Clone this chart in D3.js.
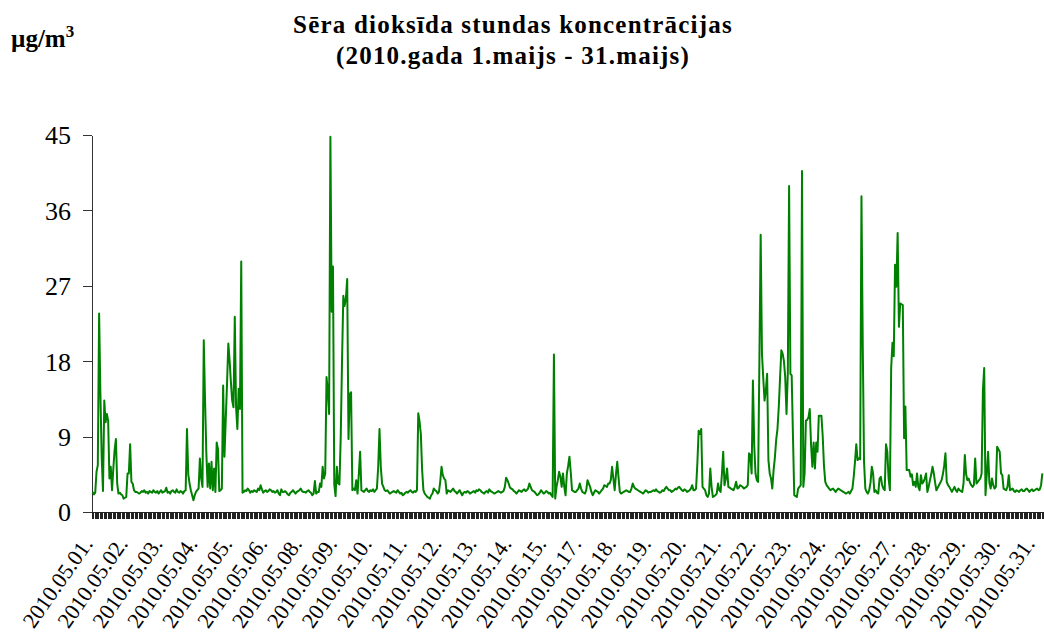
<!DOCTYPE html>
<html><head><meta charset="utf-8">
<script src="https://cdn.jsdelivr.net/npm/d3@7"></script>
<style>
body{margin:0;background:#fff}
svg{display:block}
text{font-family:"Liberation Serif","Times New Roman",serif;fill:#000}
</style>
</head><body>
<svg id="c" width="1044" height="636"></svg>
<script>
const titleLines = ["Sēra dioksīda stundas koncentrācijas", "(2010.gada 1.maijs - 31.maijs)"];
const unitLabel = "µg/m";
const unitSup = "3";
const yTicks = [0, 9, 18, 27, 36, 45];
const dateLabels = ["2010.05.01.","2010.05.02.","2010.05.03.","2010.05.04.","2010.05.05.","2010.05.06.","2010.05.08.",
  "2010.05.09.","2010.05.10.","2010.05.11.","2010.05.12.","2010.05.13.","2010.05.14.","2010.05.15.","2010.05.17.",
  "2010.05.18.","2010.05.19.","2010.05.20.","2010.05.21.","2010.05.22.","2010.05.23.","2010.05.24.","2010.05.26.",
  "2010.05.27.","2010.05.28.","2010.05.29.","2010.05.30.","2010.05.31."];
const labelStep = 27; // one date label every 27 hourly categories

// hourly SO2 concentrations, µg/m3
const so2Hourly = [
2.4,2.1,2.3,4.8,5.6,23.7,14.1,6.6,2.5,13.3,10.7,11.7,10.9,4.0,5.4,2.6,5.2,7.4,8.7,3.4,2.2,2.3,2.1,2.0,
1.6,1.7,1.8,4.6,4.6,8.1,3.6,3.4,2.6,2.4,2.4,2.3,2.2,2.3,2.5,2.4,2.6,2.3,2.4,2.2,2.5,2.4,2.3,2.6,
2.4,2.3,2.5,2.2,2.4,2.6,2.3,2.4,2.5,2.9,2.3,2.4,2.2,2.5,2.6,2.4,2.3,2.7,2.4,2.3,2.5,2.4,2.2,2.5,
2.6,9.9,4.5,3.4,2.6,2.0,1.4,2.0,2.4,2.6,2.8,6.4,4.0,3.0,20.5,13.3,7.0,3.0,5.8,2.8,6.0,2.6,5.2,2.4,
8.3,7.5,2.5,2.6,2.8,15.1,6.6,11.0,15.3,20.1,18.1,15.5,13.3,12.5,23.3,12.5,9.9,14.7,12.3,29.9,2.3,2.4,2.6,2.5,
2.8,2.6,2.3,2.5,2.4,2.6,2.5,2.4,2.8,2.6,3.2,2.7,2.3,2.5,2.6,2.4,2.5,2.7,2.6,2.4,2.5,2.3,2.4,2.6,
2.2,2.0,2.7,2.4,2.4,2.5,2.3,2.1,2.0,2.3,2.4,2.6,2.4,2.2,2.4,2.5,2.6,2.8,2.5,2.4,2.4,2.3,2.5,2.6,
2.4,2.3,2.0,2.2,3.7,2.2,2.4,2.4,3.4,3.0,5.4,4.0,4.6,16.1,14.5,11.7,44.8,23.9,29.3,3.3,1.9,5.4,3.4,3.3,
9.0,18.0,25.8,24.6,25.5,27.8,8.7,14.1,14.3,2.6,2.8,2.6,3.8,2.2,4.5,7.2,2.6,2.5,2.4,2.6,2.8,2.5,2.4,2.6,
2.5,2.7,2.4,2.6,2.8,5.4,9.9,5.4,3.4,3.0,2.6,2.5,2.6,2.4,2.2,2.3,2.4,2.5,2.4,2.3,2.6,2.4,2.2,2.3,
2.0,2.1,2.3,2.4,2.3,2.5,2.6,2.4,2.3,2.5,2.4,2.6,11.8,10.8,9.3,5.0,2.6,2.2,2.0,1.8,1.7,1.6,2.0,2.2,
2.8,2.6,2.5,2.2,2.4,3.6,5.4,4.4,4.0,3.8,2.2,2.6,2.5,2.4,2.6,2.8,2.5,2.4,2.2,2.4,2.6,2.3,2.0,2.3,
2.4,2.3,2.5,2.4,2.2,2.3,2.4,2.5,2.3,2.6,2.5,2.7,2.6,2.4,2.3,2.2,2.4,2.5,2.3,2.7,2.5,2.4,2.3,2.2,
2.3,2.4,2.5,2.4,2.3,2.4,2.5,3.0,4.1,3.8,3.4,2.9,2.8,2.7,2.5,2.4,2.2,2.4,2.6,2.5,2.4,2.6,2.7,2.5,
2.6,2.8,3.4,3.0,2.6,2.5,2.4,2.2,2.0,2.1,2.3,2.6,2.4,2.2,2.3,2.5,2.4,2.2,2.3,2.0,1.8,18.8,1.6,3.0,
3.8,4.8,4.2,3.0,4.6,3.0,2.0,4.6,5.5,6.6,4.8,2.6,2.5,2.4,2.4,2.6,2.8,3.4,2.8,2.4,2.3,2.2,2.6,3.8,
3.4,3.0,2.4,2.0,2.3,2.6,2.5,2.4,2.2,2.4,2.6,2.8,3.2,3.1,3.0,3.4,3.4,3.8,5.4,4.0,2.6,4.5,6.0,4.1,
2.4,2.2,2.3,2.4,2.5,2.6,2.5,2.4,2.4,2.8,3.4,3.0,2.8,2.7,2.6,2.5,2.4,2.3,2.2,2.4,2.6,2.5,2.3,2.4,
2.4,2.5,2.6,2.5,2.7,2.5,2.4,2.3,2.4,2.6,2.5,2.8,3.0,2.8,2.6,2.6,2.4,2.5,2.6,2.8,2.7,2.9,3.0,2.8,
2.6,2.5,2.7,2.6,2.4,2.5,2.6,2.8,3.2,2.6,2.6,2.8,5.8,9.7,9.3,9.9,3.0,2.8,2.6,2.0,1.8,2.2,5.2,3.0,
1.8,1.9,2.0,2.2,3.4,2.6,2.4,4.5,7.2,3.2,4.0,5.2,3.0,2.9,2.8,2.7,2.6,3.0,3.6,2.8,2.9,3.2,3.1,3.0,
2.8,2.9,3.0,3.2,7.0,6.8,4.6,15.7,8.0,4.6,3.8,3.6,18.0,33.1,18.9,16.0,13.3,14.5,16.5,6.2,4.6,4.0,2.8,5.0,
6.5,8.6,9.9,12.5,16.0,19.3,18.9,18.0,16.1,11.7,16.5,38.9,16.5,16.3,9.0,2.0,1.9,1.8,2.8,3.0,3.2,40.7,3.0,4.6,
10.9,11.0,11.3,12.3,8.0,5.4,8.3,5.2,8.3,7.2,11.5,11.5,11.5,9.1,5.5,3.6,3.2,3.0,2.8,2.6,2.7,2.8,2.6,2.4,
2.6,2.8,2.7,2.6,2.5,2.4,2.3,2.2,2.3,2.4,2.2,2.5,2.8,4.2,6.0,8.1,6.2,6.4,6.3,37.7,20.0,6.0,2.8,2.4,
2.2,2.6,3.5,5.4,4.6,2.4,2.6,2.3,2.2,4.0,4.2,3.2,2.8,2.6,8.1,7.2,4.0,2.6,17.2,20.2,18.6,29.5,26.9,33.3,
22.1,24.9,24.8,24.7,8.8,12.6,5.0,5.0,5.0,4.2,4.5,3.2,3.6,3.0,4.6,3.0,2.6,4.4,3.4,3.6,4.0,4.6,2.4,3.0,
3.8,4.5,5.4,4.6,3.5,2.6,2.9,3.2,3.5,3.8,4.5,5.5,7.0,3.6,3.2,3.0,2.7,2.4,2.7,3.0,2.6,2.4,2.8,2.6,
2.5,2.4,3.4,6.8,4.5,3.8,4.0,3.5,3.2,3.0,3.2,6.4,3.4,3.6,3.8,4.0,4.6,14.5,17.2,2.0,4.5,7.2,3.5,2.8,
4.0,3.2,2.8,3.0,7.8,7.5,7.2,4.6,4.4,2.8,2.7,2.6,3.0,4.4,2.6,2.7,2.8,2.5,2.4,2.6,2.5,2.4,2.6,2.7,
2.5,2.5,2.7,2.8,2.6,2.4,2.6,2.7,2.5,2.6,2.7,2.8,2.6,2.7,3.2,4.6
];

const N = so2Hourly.length;
const svg = d3.select("#c");
const x = d3.scaleLinear().domain([0, N]).range([92, 1043]);
const y = d3.scaleLinear().domain([0, 45]).range([512, 135]);

// title
svg.append("g").selectAll("text").data(titleLines).join("text")
  .attr("x", 513).attr("y", (d, i) => 33 + i * 31)
  .attr("text-anchor", "middle")
  .style("font-size", "25px").style("font-weight", "bold").style("letter-spacing", "1.2px")
  .text(d => d);

// unit label
const u = svg.append("text").attr("x", 11).attr("y", 47)
  .style("font-size", "25px").style("font-weight", "bold");
u.append("tspan").text(unitLabel);
u.append("tspan").attr("dy", -10).style("font-size", "17px").text(unitSup);

// y axis
const ya = svg.append("g").attr("transform", `translate(${x(0)},0)`)
  .call(d3.axisLeft(y).tickValues(yTicks).tickSize(9).tickPadding(12).tickSizeOuter(0));
ya.selectAll("text").style("font-size", "26px").attr("dy", "0.34em");
ya.selectAll("line,path").attr("stroke", "#333").attr("shape-rendering", "crispEdges");

// x axis: one tick per hourly category
const xa = svg.append("g").attr("transform", `translate(0,${y(0)})`)
  .call(d3.axisBottom(x).tickValues(d3.range(0, N + 1)).tickSize(7).tickFormat("").tickSizeOuter(0));
xa.selectAll("line,path").attr("stroke", "#222").attr("shape-rendering", "crispEdges");

// date labels
const labelIdx = dateLabels.map((d, k) => k * labelStep);
svg.append("g").selectAll("text").data(labelIdx).join("text")
  .attr("text-anchor", "end")
  .attr("transform", (d) => `translate(${x(d + 0.5) + 1},${y(0) + 32}) rotate(-55)`)
  .style("font-size", "22px")
  .text((d, k) => dateLabels[k]);

// line
svg.append("path").datum(so2Hourly)
  .attr("fill", "none").attr("stroke", "#008000").attr("stroke-width", 2)
  .attr("stroke-linejoin", "round")
  .attr("d", d3.line().x((d, i) => x(i + 0.5)).y(d => y(d)));
</script>
</body></html>
